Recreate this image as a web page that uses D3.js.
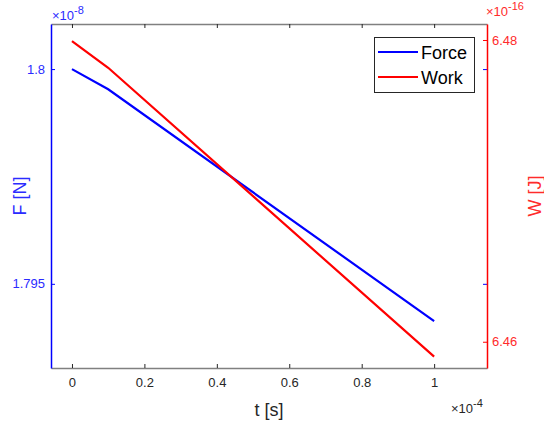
<!DOCTYPE html>
<html><head><meta charset="utf-8">
<script src="https://cdn.jsdelivr.net/npm/d3@7"></script>
<style>body{margin:0;background:#fff;} svg{display:block;font-family:Arial,"Liberation Sans",Helvetica,sans-serif;}</style>
</head><body>
<svg id="c" width="544" height="421"></svg>
<script>
// time in units of 1e-4 s
const tValues = [0, 0.1, 1];
// force in units of 1e-8 N
const forceValues = [1.8, 1.79953, 1.79413];
// work in units of 1e-16 J
const workValues = [6.47993, 6.47816, 6.45901];
const xTicks = [0, 0.2, 0.4, 0.6, 0.8, 1];
const xTickLabels = ["0", "0.2", "0.4", "0.6", "0.8", "1"];
const leftTicks = [1.795, 1.8];
const leftTickLabels = ["1.795", "1.8"];
const rightTicks = [6.46, 6.48];
const rightTickLabels = ["6.46", "6.48"];
const seriesNames = ["Force", "Work"];

const L = 51, R = 487, T = 24, B = 368;
const svg = d3.select("#c");
const x = d3.scaleLinear().domain([-0.0579, 1.146]).range([L, R]);
const yL = d3.scaleLinear().domain([1.79304, 1.80105]).range([B, T]);
const yR = d3.scaleLinear().domain([6.45826, 6.48106]).range([B, T]);

const BLUE = "#0000ff", RED = "#ff0000", GRAY = "#808080", TXT = "#262626";
const LBLUE = "#2b2bff", LRED = "#ff2b2b";

// top/bottom axes
const xb = svg.append("g").attr("transform", `translate(0,${B})`)
  .call(d3.axisBottom(x).tickValues(xTicks).tickFormat((d,i)=>xTickLabels[i]).tickSizeInner(-4).tickSizeOuter(0).tickPadding(10));
xb.select(".domain").attr("stroke", GRAY).attr("stroke-width", 1.5);
xb.selectAll(".tick line").attr("stroke", TXT);
xb.selectAll("text").attr("fill", TXT).attr("font-size", 13);
const xt = svg.append("g").attr("transform", `translate(0,${T})`)
  .call(d3.axisTop(x).tickValues(xTicks).tickFormat("").tickSizeInner(-4).tickSizeOuter(0));
xt.select(".domain").attr("stroke", GRAY).attr("stroke-width", 1.5);
xt.selectAll(".tick line").attr("stroke", TXT);

// left axis
const ya = svg.append("g").attr("transform", `translate(${L},0)`)
  .call(d3.axisLeft(yL).tickValues(leftTicks).tickFormat((d,i)=>leftTickLabels[i]).tickSizeInner(-4).tickSizeOuter(0).tickPadding(6));
ya.select(".domain").attr("stroke", BLUE).attr("stroke-width", 1.5);
ya.selectAll(".tick line").attr("stroke", BLUE);
ya.selectAll("text").attr("fill", LBLUE).attr("font-size", 13);
// mirrored left ticks on right side
const ym = svg.append("g").attr("transform", `translate(${R},0)`)
  .call(d3.axisRight(yL).tickValues(leftTicks).tickFormat("").tickSizeInner(-4).tickSizeOuter(0));
ym.select(".domain").remove();
ym.selectAll(".tick line").attr("stroke", BLUE);

// right axis
const yr = svg.append("g").attr("transform", `translate(${R},0)`)
  .call(d3.axisRight(yR).tickValues(rightTicks).tickFormat((d,i)=>rightTickLabels[i]).tickSizeInner(-4).tickSizeOuter(0).tickPadding(5));
yr.select(".domain").attr("stroke", RED).attr("stroke-width", 1.5);
yr.selectAll(".tick line").attr("stroke", RED);
yr.selectAll("text").attr("fill", LRED).attr("font-size", 13);

// lines
const lineF = d3.line().x((d,i)=>x(tValues[i])).y(d=>yL(d));
const lineW = d3.line().x((d,i)=>x(tValues[i])).y(d=>yR(d));
svg.append("path").datum(forceValues).attr("d", lineF).attr("fill","none").attr("stroke",BLUE).attr("stroke-width",2.2);
svg.append("path").datum(workValues).attr("d", lineW).attr("fill","none").attr("stroke",RED).attr("stroke-width",2.2);

// exponent labels
function expLabel(xp, yp, exp, color) {
  const t = svg.append("text").attr("x", xp).attr("y", yp).attr("fill", color).attr("font-size", 13);
  t.append("tspan").text("\u00d7");
  t.append("tspan").text("10");
  t.append("tspan").attr("dy", -6).attr("font-size", 11).text(exp);
}
expLabel(L + 1, 20, "-8", LBLUE);
expLabel(486, 16, "-16", LRED);
expLabel(451, 413, "-4", TXT);

// axis labels
svg.append("text").attr("x", (L+R)/2).attr("y", 416).attr("text-anchor","middle").attr("fill", TXT).attr("font-size", 18).text("t [s]");
svg.append("text").attr("transform", `translate(26,${(T+B)/2}) rotate(-90)`).attr("text-anchor","middle").attr("fill", LBLUE).attr("font-size", 18).text("F [N]");
svg.append("text").attr("transform", `translate(541,${(T+B)/2}) rotate(-90)`).attr("text-anchor","middle").attr("fill", LRED).attr("font-size", 18).text("W [J]");

// legend
const lg = svg.append("g");
lg.append("rect").attr("x", 374.5).attr("y", 37.5).attr("width", 100).attr("height", 55).attr("fill", "#fff").attr("stroke", "#262626").attr("stroke-width", 1);
const legColors = [BLUE, RED];
seriesNames.forEach((n, i) => {
  const yy = 52 + i * 25;
  lg.append("line").attr("x1", 378).attr("x2", 418).attr("y1", yy).attr("y2", yy).attr("stroke", legColors[i]).attr("stroke-width", 2.2);
  lg.append("text").attr("x", 421).attr("y", yy + 6.5).attr("fill", "#000").attr("font-size", 18).text(n);
});
</script>
</body></html>
